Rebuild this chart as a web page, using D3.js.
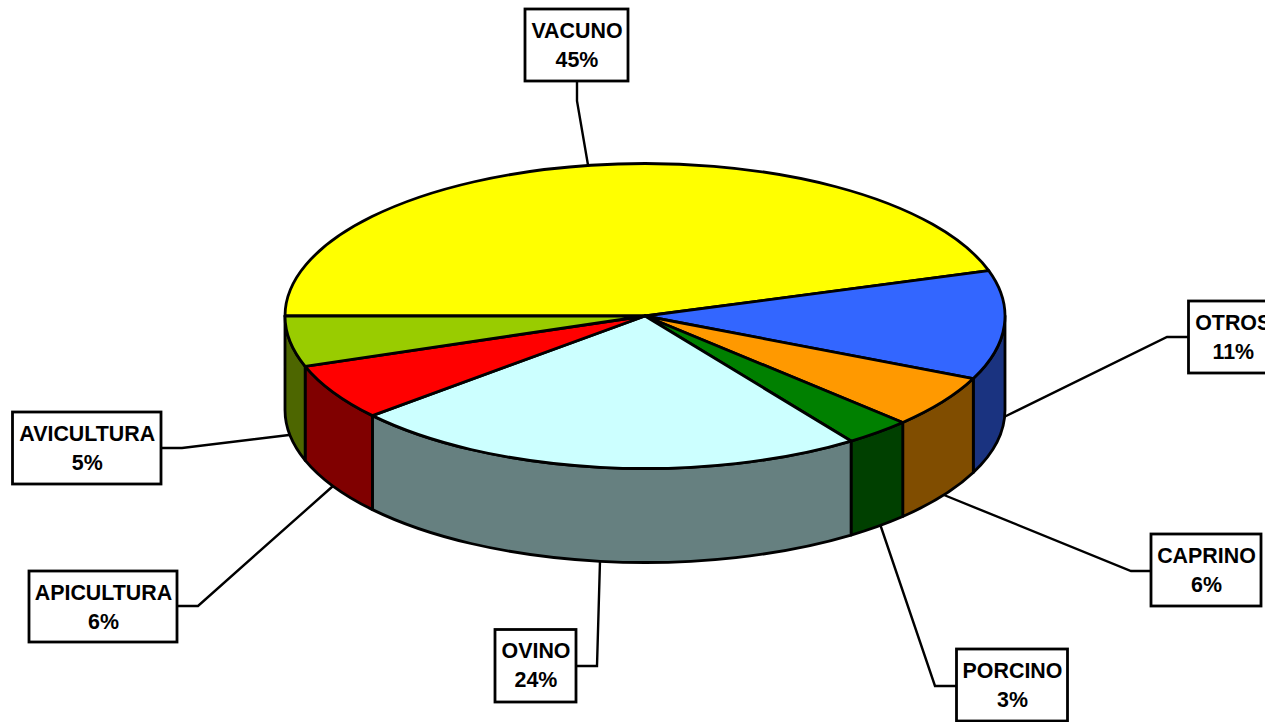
<!DOCTYPE html>
<html>
<head>
<meta charset="utf-8">
<script src="https://cdn.jsdelivr.net/npm/d3@7"></script>
<style>
html,body{margin:0;padding:0;background:#fff;overflow:hidden}
svg{display:block}
text{font-family:"Liberation Sans",Arial,sans-serif;font-weight:bold;font-size:21.4px;fill:#000;text-anchor:middle}
</style>
</head>
<body>
<svg id="c" width="1265" height="722"></svg>
<script>
const categories = ["VACUNO","OTROS","CAPRINO","PORCINO","OVINO","APICULTURA","AVICULTURA"];
const values = [45.2,11.53,5.57,3.0,23.37,5.98,5.35];
const percentLabels = ["45%","11%","6%","3%","24%","6%","5%"];
const topColors = ["#FFFF00","#3366FF","#FF9900","#008000","#CCFFFF","#FF0000","#99CC00"];
const sideColors = ["#808000","#1A3380","#804D00","#004000","#668080","#800000","#4D6600"];
// label box [x0, y0, x1, y1]
const labelBoxes = [[525,9,628,81],[1188.5,301,1277,373],[1151,534,1261,606],[956.5,649,1067.5,721],[495,629.5,576,702],[29,571,177,642],[12.5,412,161,484]];
// leader lines
const leaders = [
  [[577,81],[577,101],[588,165]],
  [[1188,337],[1167,337],[1004,417]],
  [[1151,571],[1131,571],[944,495]],
  [[956,686],[935,686],[880,524]],
  [[576,666],[597,666],[600,561]],
  [[177,606],[198,606],[333,486]],
  [[161,448],[182,448],[289,435]]
];

const cx = 645, cy = 316, rx = 360, ry = 152.5, depth = 94;
const sx = d3.scaleLinear().domain([-1,1]).range([cx-rx,cx+rx]);
const sy = d3.scaleLinear().domain([-1,1]).range([cy-ry,cy+ry]);
const svg = d3.select("#c");

const arcs = d3.pie().sort(null).startAngle(-Math.PI/2).endAngle(1.5*Math.PI)(values);
const px = a => sx(Math.sin(a));
const py = a => sy(-Math.cos(a));

function topPath(d){
  const large = d.endAngle-d.startAngle > Math.PI ? 1 : 0;
  return `M${cx},${cy}L${px(d.startAngle)},${py(d.startAngle)}A${rx},${ry} 0 ${large} 1 ${px(d.endAngle)},${py(d.endAngle)}Z`;
}
function wallPath(d){
  const a0 = Math.max(d.startAngle, Math.PI/2), a1 = Math.min(d.endAngle, 1.5*Math.PI);
  if (a1 <= a0) return null;
  return `M${px(a0)},${py(a0)}A${rx},${ry} 0 0 1 ${px(a1)},${py(a1)}L${px(a1)},${py(a1)+depth}A${rx},${ry} 0 0 0 ${px(a0)},${py(a0)+depth}Z`;
}

const lineGen = d3.line();
svg.append("g").selectAll("path").data(leaders).join("path")
  .attr("d", lineGen).attr("fill","none").attr("stroke","#000").attr("stroke-width",2.4);

svg.append("g").selectAll("path").data(arcs.filter(wallPath)).join("path")
  .attr("d", wallPath)
  .attr("fill", d => sideColors[d.index])
  .attr("stroke","#000").attr("stroke-width",2.8).attr("stroke-linejoin","round");

svg.append("g").selectAll("path").data(arcs).join("path")
  .attr("d", topPath)
  .attr("fill", d => topColors[d.index])
  .attr("stroke","#000").attr("stroke-width",2.8).attr("stroke-linejoin","round");

const labels = svg.append("g").selectAll("g").data(categories).join("g");
labels.append("rect")
  .attr("x",(d,i)=>labelBoxes[i][0]).attr("y",(d,i)=>labelBoxes[i][1])
  .attr("width",(d,i)=>labelBoxes[i][2]-labelBoxes[i][0])
  .attr("height",(d,i)=>labelBoxes[i][3]-labelBoxes[i][1])
  .attr("fill","#fff").attr("stroke","#000").attr("stroke-width",2.8);
labels.append("text")
  .attr("x",(d,i)=>(labelBoxes[i][0]+labelBoxes[i][2])/2+0.5)
  .attr("y",(d,i)=>labelBoxes[i][1]+28.5)
  .text(d=>d);
labels.append("text")
  .attr("x",(d,i)=>(labelBoxes[i][0]+labelBoxes[i][2])/2+0.5)
  .attr("y",(d,i)=>labelBoxes[i][1]+57.5)
  .text((d,i)=>percentLabels[i]);
</script>
</body>
</html>
